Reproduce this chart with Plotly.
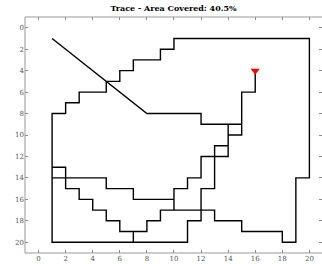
import plotly.graph_objects as go

# Robot trace path (grid coordinates), in order
path_x = [1, 8, 12, 12, 15, 15, 14, 14, 14, 14, 12, 12, 11, 11, 10, 10, 7, 7, 5, 5, 1, 1, 2, 2, 3, 3, 4, 4, 5, 5,
          6, 6, 8, 8, 9, 9, 10, 10, 10, 13, 13, 15, 15, 18, 18, 19, 19, 20, 20, 10, 10, 9, 9, 7, 7, 6, 6, 5, 5, 3,
          3, 2, 2, 1, 1, 7, 7, 7, 11, 11, 12, 12, 13, 13, 14, 14, 15, 15, 16, 16]
path_y = [1, 8, 8, 9, 9, 10, 10, 9, 10, 12, 12, 14, 14, 15, 15, 16, 16, 15, 15, 14, 14, 13, 13, 15, 15, 16, 16, 17, 17, 18,
          18, 19, 19, 18, 18, 17, 17, 16, 17, 17, 18, 18, 19, 19, 20, 20, 14, 14, 1, 1, 2, 2, 3, 3, 4, 4, 5, 5, 6, 6,
          7, 7, 8, 8, 20, 20, 19, 20, 20, 18, 18, 15, 15, 11, 11, 10, 10, 6, 6, 4]
current_x = [16]
current_y = [4]
tick_vals = list(range(0, 21, 2))
title_text = "Trace - Area Covered: 40.5%"

fig = go.Figure()
fig.add_trace(go.Scatter(x=path_x, y=path_y, mode="lines",
                         line=dict(color="black", width=1.4), hoverinfo="skip"))
fig.add_trace(go.Scatter(x=current_x, y=current_y, mode="markers",
                         marker=dict(symbol="triangle-down", size=8, color="red"), hoverinfo="skip"))

font_fam = "DejaVu Serif"
axis_common = dict(tickvals=tick_vals, ticks="inside", ticklen=3, tickcolor="#888",
                   tickwidth=1, mirror="ticks", showline=False, showgrid=False, zeroline=False,
                   automargin=False,
                   tickfont=dict(family=font_fam, size=7, color="#555"))
fig.update_xaxes(range=[-1, 20.93], **axis_common)
fig.update_yaxes(range=[21, -1], **axis_common)

line_style = dict(color="#999", width=1)
fig.add_shape(type="line", xref="paper", yref="paper", x0=0, x1=0, y0=0, y1=1, line=line_style)
fig.add_shape(type="line", xref="paper", yref="paper", x0=0, x1=1, y0=0, y1=0, line=line_style)
fig.add_shape(type="line", xref="paper", yref="paper", x0=0, x1=1, y0=1, y1=1, line=line_style)

fig.update_layout(
    width=322, height=264,
    margin=dict(l=25, r=0, t=17, b=11),
    paper_bgcolor="white", plot_bgcolor="white",
    showlegend=False,
    title=dict(text="<b>" + title_text + "</b>", x=0.539, xanchor="center", y=0.97, yanchor="middle",
               font=dict(family=font_fam, size=8, color="black")),
)
fig.write_html("out.html", config={"displayModeBar": False},
               post_script="document.body.style.margin='0';document.body.style.overflow='hidden';")
